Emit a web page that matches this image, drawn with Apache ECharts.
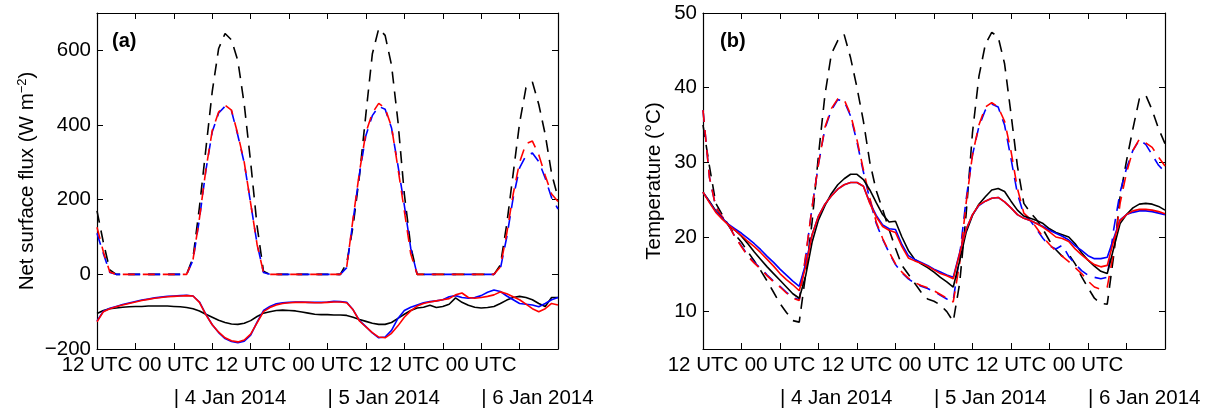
<!DOCTYPE html>
<html>
<head>
<meta charset="utf-8">
<script src="https://cdn.jsdelivr.net/npm/echarts@6/dist/echarts.min.js"></script>
<style>
  html, body { margin: 0; padding: 0; background: #fff; }
  #chart { width: 1213px; height: 412px; }
</style>
</head>
<body>
<div id="chart"></div>
<script>
// Hourly samples, 3 Jan 2014 12 UTC (hour 0) to 6 Jan 2014 12 UTC (hour 72)
const hours = [0,1,2,3,4,5,6,7,8,9,10,11,12,13,14,15,16,17,18,19,20,21,22,23,24,
  25,26,27,28,29,30,31,32,33,34,35,36,37,38,39,40,41,42,43,44,45,46,47,48,
  49,50,51,52,53,54,55,56,57,58,59,60,61,62,63,64,65,66,67,68,69,70,71,72];

// x-axis tick labels (hour -> text)
const utcTickHours = [0, 12, 24, 36, 48, 60];
const utcTickLabels = ['12 UTC', '00 UTC', '12 UTC', '00 UTC', '12 UTC', '00 UTC'];
const dateHours = [12, 36, 60];
const dateLabels = ['| 4 Jan 2014', '| 5 Jan 2014', '| 6 Jan 2014'];

// y-axis ticks
const fluxTicks = [-200, 0, 200, 400, 600];
const tempTicks = [10, 20, 30, 40, 50];

// (a) Net surface flux, W m-2 — dashed curves
const fluxDashBlack = [170,85,12,0,0,0,0,0,0,0,0,0,0,0,0,45,180,335,490,605,645,628,572,455,300,
  130,8,0,0,0,0,0,0,0,0,0,0,0,0,30,130,265,430,590,658,640,560,410,215,
  75,0,0,0,0,0,0,0,0,0,0,0,0,0,25,135,270,405,500,515,455,375,270,205];
const fluxDashBlue = [110,55,5,0,0,0,0,0,0,0,0,0,0,0,0,38,148,278,382,432,450,438,372,298,190,
  82,5,0,0,0,0,0,0,0,0,0,0,0,0,18,145,270,372,425,450,442,392,292,185,
  70,0,0,0,0,0,0,0,0,0,0,0,0,0,15,100,205,285,318,325,302,258,205,175];
const fluxDashRed = [126,60,6,0,0,0,0,0,0,0,0,0,0,0,0,40,150,280,385,435,453,440,375,300,190,
  80,5,0,0,0,0,0,0,0,0,0,0,0,0,20,150,275,380,432,458,445,395,285,170,
  55,0,0,0,0,0,0,0,0,0,0,0,0,0,20,110,215,300,350,357,320,265,215,195];
// (a) solid curves
const fluxBlack = [-105,-97,-92,-90,-88,-87,-86,-86,-85,-85,-85,-85,-86,-87,-89,-92,-98,-107,-115,-123,
  -129,-133,-134,-131,-124,-113,-104,-100,-97,-96,-97,-98,-101,-104,-107,-108,-108,-109,-109,-110,
  -115,-121,-126,-131,-134,-134,-129,-118,-107,-97,-90,-88,-83,-89,-86,-80,-63,-75,-83,-88,
  -90,-89,-86,-78,-69,-62,-59,-62,-68,-78,-86,-62,-62];
const fluxBlue = [-125,-99,-91,-86,-81,-77,-73,-69,-66,-63,-61,-59,-58,-57,-56,-58,-74,-107,-135,-156,
  -172,-180,-183,-179,-163,-128,-97,-86,-79,-76,-75,-74,-74,-75,-75,-75,-74,-72,-73,-75,
  -95,-124,-140,-157,-170,-168,-150,-118,-97,-88,-82,-76,-73,-71,-68,-60,-57,-62,-64,-62,
  -57,-48,-42,-46,-58,-68,-78,-80,-82,-87,-78,-68,-62];
const fluxRed = [-127,-100,-92,-87,-82,-78,-74,-70,-67,-64,-62,-60,-59,-58,-57,-58,-75,-108,-135,-155,
  -170,-178,-181,-176,-160,-130,-100,-89,-82,-78,-76,-75,-75,-75,-76,-76,-75,-74,-74,-76,
  -95,-125,-141,-156,-168,-170,-158,-138,-115,-98,-85,-78,-74,-71,-68,-65,-55,-50,-62,-64,
  -62,-59,-55,-47,-52,-60,-68,-80,-92,-100,-92,-78,-82];

// (b) Temperature, °C — dashed curves
const tempDashBlack = [35,29.5,24.5,23,21.5,20.3,19.3,18,16.8,15.5,14.1,12.6,11.1,9.9,8.8,8.6,15,22,31,39,
  44.5,46.3,47.1,44,40,35.5,30,26.2,23.7,21,18.5,16.2,15,13.8,12.6,11.7,11.4,10.9,10,8.7,
  13.8,23,34,41.5,45.8,47.4,46.8,43.2,36.5,29.5,24.5,23.3,22.3,21,19.5,18.3,17.4,17.7,16.4,14.7,
  13.2,11.8,11.1,11,17.5,25.4,30.2,34.5,38.5,39,37,34.5,32.5];
const tempDashBlue = [37,28,24,22.7,21.6,20,18.8,17.5,16.6,15.8,14.9,14.1,13.4,12.6,11.9,11.6,17.3,24,29.8,34.5,
  37,38.4,38.2,36.2,32.7,28.7,25,21.8,19.7,17.9,16.3,15.2,14.4,13.8,13.4,13.1,12.7,12.2,11.7,11.5,
  17.5,25,31,34.8,37,37.8,37.4,35,30.5,25.8,23,22.2,21,19.8,18.8,18.4,18.9,17.4,16.4,15.5,
  14.9,14.6,14.4,14.6,21,26,29.2,31.6,33,32.4,31,29.6,28.7];
const tempDashRed = [37,28,24,22.7,21.6,20,18.7,17.4,16.5,15.7,14.8,14,13.3,12.5,11.8,11.5,17.5,24,29.8,34.7,
  37.2,38.5,38.4,36.4,33,29,25.2,22,19.8,18,16.4,15.3,14.5,13.9,13.5,13.2,12.8,12.3,11.8,11.3,
  16.5,24.5,31,35,37.4,38,37.4,35.5,31.5,26.5,23.2,22.4,21.2,20,19,18.1,17.4,16.7,15.9,15.1,
  14.1,13.3,13,13.3,18,24.5,28.6,31.6,33.1,32.6,32,30.7,29.5];
// (b) solid curves
const tempBlack = [26,24.8,23.5,22.5,21.6,20.9,20.1,19.1,18,17,16,15.1,14.2,13.3,12.4,11.8,14.8,19.3,22.3,24.2,
  25.8,27,27.8,28.4,28.4,27.7,26.3,24.6,23,22,22.1,20,18.2,17,16.4,15.9,15.3,14.6,14,13.3,
  16.8,20.6,22.9,24.4,25.4,26.3,26.5,26.1,24.8,23.6,22.8,22.5,22.2,21.8,21.1,20.6,20.3,20,19.1,17.9,
  16.9,16.1,15.4,15.1,18.5,21.8,23,23.9,24.4,24.5,24.4,24.1,23.6];
const tempBlue = [26,24.7,23.4,22.5,21.7,21.1,20.5,19.8,19.1,18.3,17.4,16.6,15.7,14.9,14.1,13.4,16.4,20.3,22.8,24.4,
  25.5,26.4,27,27.3,27.3,26.8,24.6,22.9,21.6,21.1,21,19,17.5,17,16.6,16.2,15.7,15.3,14.9,14.6,
  17.9,21,23,24.2,24.8,25.2,25.3,24.7,23.9,23,22.5,22.2,21.8,21.4,20.9,20.5,20.1,19.6,18.8,18.2,
  17.5,17.1,17.1,17.3,19.8,22.3,23,23.3,23.5,23.5,23.4,23.2,23];
const tempRed = [26,24.6,23.3,22.4,21.6,20.9,20.2,19.4,18.7,17.9,17,16.1,15.1,14.3,13.6,12.8,16,20.3,22.8,24.4,
  25.5,26.4,27,27.3,27.3,26.8,24.5,22.7,21.4,20.9,20.6,18.7,17.2,16.8,16.5,16.1,15.6,15.1,14.8,14.4,
  17.8,21,23,24.3,24.8,25.2,25.3,24.7,23.9,23,22.5,22.2,21.8,21.3,20.7,20,19.8,19.4,18.4,17.6,
  16.9,16.3,16,16.2,19.5,22.2,23,23.5,23.7,23.7,23.6,23.4,23.1];

const FONT = '"Liberation Sans", Arial, Helvetica, sans-serif';
const INK = '#000';
const BLUE = '#0000ff';
const RED = '#ff0000';
const LABEL_SIZE = 20.5;

const chart = echarts.init(document.getElementById('chart'), null, { renderer: 'canvas' });

const grids = [
  { left: 97, top: 13, width: 461, height: 336 },
  { left: 703, top: 13, width: 462, height: 336 }
];

function utcLabel(v) {
  const i = utcTickHours.indexOf(v);
  return i >= 0 ? utcTickLabels[i] : '';
}
function dateLabel(v) {
  const i = dateHours.indexOf(v);
  return i >= 0 ? dateLabels[i] : '';
}
function minusSign(v) { return String(v).replace('-', '\u2212'); }

const xAxes = [];
const yAxes = [];
[0, 1].forEach(g => {
  // bottom axis with time-of-day labels
  xAxes.push({
    type: 'value', gridIndex: g, position: 'bottom', min: 0, max: 72, interval: 6,
    axisLine: { show: true, onZero: false, lineStyle: { color: INK, width: 1.2 } },
    axisTick: { show: true, inside: true, length: 6, lineStyle: { color: INK, width: 1 } },
    axisLabel: { show: true, formatter: utcLabel, color: INK, fontSize: LABEL_SIZE, fontFamily: FONT, margin: 6,
                 showMinLabel: true, showMaxLabel: true, hideOverlap: false },
    splitLine: { show: false }
  });
  // top edge of the box
  xAxes.push({
    type: 'value', gridIndex: g, position: 'top', min: 0, max: 72, interval: 6,
    axisLine: { show: true, onZero: false, lineStyle: { color: INK, width: 1.2 } },
    axisTick: { show: true, inside: true, length: 6, lineStyle: { color: INK, width: 1 } },
    axisLabel: { show: false },
    splitLine: { show: false }
  });
  // date row under the time labels
  xAxes.push({
    type: 'value', gridIndex: g, position: 'bottom', offset: 33, min: 0, max: 72, interval: 12,
    axisLine: { show: false }, axisTick: { show: false },
    axisLabel: { show: true, formatter: dateLabel, align: 'left', color: INK, fontSize: LABEL_SIZE,
                 fontFamily: FONT, margin: 6, hideOverlap: false },
    splitLine: { show: false }
  });
});

// (a) y axes
yAxes.push({
  type: 'value', gridIndex: 0, position: 'left', min: -200, max: 700,
  axisLine: { show: true, onZero: false, lineStyle: { color: INK, width: 1.2 } },
  axisTick: { show: true, inside: true, length: 6, customValues: fluxTicks, lineStyle: { color: INK, width: 1 } },
  axisLabel: { show: true, customValues: fluxTicks, formatter: minusSign, color: INK, fontSize: LABEL_SIZE,
               fontFamily: FONT, margin: 6 },
  splitLine: { show: false },
  name: '{t|Net surface flux (W m}{s|\u22122}{t|)}',
  nameLocation: 'middle', nameRotate: 90, nameGap: 59,
  nameTextStyle: { color: INK, fontSize: LABEL_SIZE, fontFamily: FONT,
    rich: { t: { fontSize: LABEL_SIZE, color: INK, fontFamily: FONT },
            s: { fontSize: 13, color: INK, fontFamily: FONT, padding: [0, 0, 9, 0] } } }
});
yAxes.push({
  type: 'value', gridIndex: 0, position: 'right', min: -200, max: 700,
  axisLine: { show: true, onZero: false, lineStyle: { color: INK, width: 1.2 } },
  axisTick: { show: true, inside: true, length: 6, customValues: fluxTicks, lineStyle: { color: INK, width: 1 } },
  axisLabel: { show: false }, splitLine: { show: false }
});
// (b) y axes
yAxes.push({
  type: 'value', gridIndex: 1, position: 'left', min: 5, max: 50,
  axisLine: { show: true, onZero: false, lineStyle: { color: INK, width: 1.2 } },
  axisTick: { show: true, inside: true, length: 6, customValues: tempTicks, lineStyle: { color: INK, width: 1 } },
  axisLabel: { show: true, customValues: tempTicks, color: INK, fontSize: LABEL_SIZE, fontFamily: FONT, margin: 6 },
  splitLine: { show: false },
  name: 'Temperature (\u00B0C)',
  nameLocation: 'middle', nameRotate: 90, nameGap: 38,
  nameTextStyle: { color: INK, fontSize: LABEL_SIZE, fontFamily: FONT }
});
yAxes.push({
  type: 'value', gridIndex: 1, position: 'right', min: 5, max: 50,
  axisLine: { show: true, onZero: false, lineStyle: { color: INK, width: 1.2 } },
  axisTick: { show: true, inside: true, length: 6, customValues: tempTicks, lineStyle: { color: INK, width: 1 } },
  axisLabel: { show: false }, splitLine: { show: false }
});

function pairs(vals) { return hours.map((h, i) => [h, vals[i]]); }
function line(name, vals, color, dashed, xi, yi) {
  return {
    name, type: 'line', xAxisIndex: xi, yAxisIndex: yi, data: pairs(vals),
    showSymbol: false, symbol: 'none', clip: true, silent: true,
    lineStyle: { color, width: 1.6, type: dashed ? [12, 8] : 'solid' }
  };
}

const series = [
  line('a-dash-black', fluxDashBlack, INK, true, 0, 0),
  line('a-dash-blue', fluxDashBlue, BLUE, true, 0, 0),
  line('a-dash-red', fluxDashRed, RED, true, 0, 0),
  line('a-black', fluxBlack, INK, false, 0, 0),
  line('a-blue', fluxBlue, BLUE, false, 0, 0),
  line('a-red', fluxRed, RED, false, 0, 0),
  line('b-dash-black', tempDashBlack, INK, true, 3, 2),
  line('b-dash-blue', tempDashBlue, BLUE, true, 3, 2),
  line('b-dash-red', tempDashRed, RED, true, 3, 2),
  line('b-black', tempBlack, INK, false, 3, 2),
  line('b-blue', tempBlue, BLUE, false, 3, 2),
  line('b-red', tempRed, RED, false, 3, 2)
];

chart.setOption({
  animation: false,
  backgroundColor: '#fff',
  textStyle: { fontFamily: FONT },
  title: [
    { text: '(a)', left: 107, top: 26, textStyle: { fontSize: 20, fontWeight: 'bold', color: INK, fontFamily: FONT } },
    { text: '(b)', left: 715, top: 26, textStyle: { fontSize: 20, fontWeight: 'bold', color: INK, fontFamily: FONT } }
  ],
  grid: grids,
  xAxis: xAxes,
  yAxis: yAxes,
  series
});
</script>
</body>
</html>
